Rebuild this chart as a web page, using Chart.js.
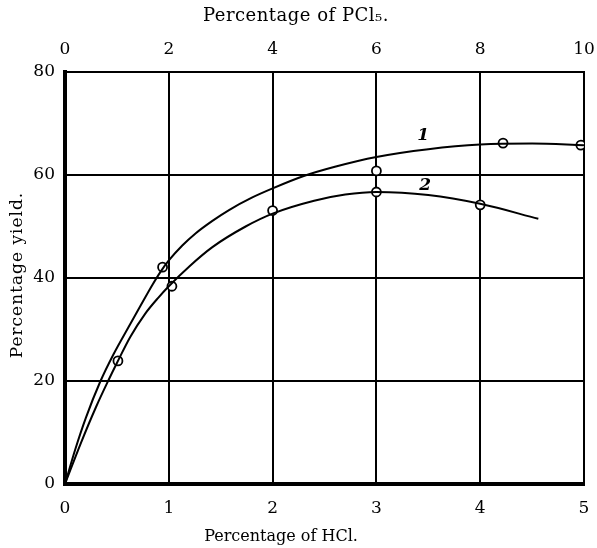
<!DOCTYPE html>
<html>
<head>
<meta charset="utf-8">
<script src="https://cdn.jsdelivr.net/npm/chart.js@4"></script>
<style>
  body { margin: 0; background: #fff; }
  #wrap { width: 597px; height: 548px; }
</style>
</head>
<body>
<div id="wrap"><canvas id="myChart" width="597" height="548"></canvas></div>
<script>
// smooth curves as drawn (HCl %, yield %)
const curve1X = [0, 0.1, 0.2, 0.34, 0.47, 0.61, 0.73, 0.84, 0.92, 1.0, 1.13, 1.26, 1.42, 1.58, 1.8, 2.0, 2.3, 2.6, 3.0, 3.5, 4.0, 4.5, 5.0];
const curve1Y = [0, 6.8, 12.8, 19.9, 25.3, 30.4, 34.7, 38.6, 41.2, 43.4, 46.3, 48.7, 51.1, 53.2, 55.6, 57.4, 59.8, 61.6, 63.5, 65, 65.9, 66.1, 65.8];
const curve2X = [0, 0.15, 0.3, 0.42, 0.5, 0.63, 0.77, 0.9, 1.0, 1.2, 1.42, 1.74, 2.0, 2.4, 2.7, 3.0, 3.5, 4.0, 4.56];
const curve2Y = [0, 7.8, 15, 20.2, 23.5, 28.6, 33, 36.2, 38.4, 42.3, 46, 50, 52.5, 55, 56.2, 56.7, 56.1, 54.4, 51.5];

// measured points (circles)
const points1X = [0.94, 3.0, 4.22, 4.97];
const points1Y = [42.1, 60.8, 66.2, 65.8];
const points2X = [0.51, 1.03, 2.0, 3.0, 4.0];
const points2Y = [23.9, 38.4, 53.1, 56.7, 54.2];

// curve labels
const curveLabels = ['1', '2'];
const labelX = [3.45, 3.47];
const labelY = [67.6, 57.9];

const hclTicks = [0, 1, 2, 3, 4, 5];
const pclTicks = [0, 2, 4, 6, 8, 10];
const yieldTicks = [0, 20, 40, 60, 80];

const serif = '"DejaVu Serif", serif';

function toXY(xs, ys) {
    return xs.map((x, i) => ({ x: x, y: ys[i] }));
}

const lineStyle = {
    showLine: true,
    borderColor: '#000',
    borderWidth: 2,
    pointRadius: 0,
    cubicInterpolationMode: 'monotone',
    fill: false
};
const dotStyle = {
    showLine: false,
    pointRadius: 4.5,
    pointBorderWidth: 1.8,
    pointBorderColor: '#000',
    pointBackgroundColor: '#fff'
};

const textPlugin = {
    id: 'texts',
    afterDatasetsDraw(chart) {
        const ctx = chart.ctx;
        const xs = chart.scales.x, ys = chart.scales.y;
        ctx.save();
        ctx.fillStyle = '#000';
        ctx.textAlign = 'center';
        ctx.textBaseline = 'middle';
        ctx.font = 'bold italic 17px ' + serif;
        curveLabels.forEach((t, i) => {
            ctx.fillText(t, xs.getPixelForValue(labelX[i]), ys.getPixelForValue(labelY[i]));
        });
        ctx.font = '18px ' + serif;
        ctx.letterSpacing = '0.5px';
        ctx.fillText('Percentage of PCl\u2085.', 296, 16);
        ctx.letterSpacing = '0px';
        ctx.font = '16px ' + serif;
        ctx.fillText('Percentage of HCl.', 281, 537);
        ctx.translate(18, 275);
        ctx.rotate(-Math.PI / 2);
        ctx.font = '17px ' + serif;
        ctx.letterSpacing = '1px';
        ctx.fillText('Percentage yield.', 0, 0);
        ctx.restore();
    }
};

const tickFont = { family: serif, size: 17 };

function noSidePad(s) {
    s.paddingLeft = 0;
    s.paddingRight = 0;
}

const myChart = new Chart(document.getElementById('myChart').getContext('2d'), {
    type: 'scatter',
    data: {
        datasets: [
            Object.assign({ data: toXY(curve1X, curve1Y) }, lineStyle),
            Object.assign({ data: toXY(curve2X, curve2Y) }, lineStyle),
            Object.assign({ data: toXY(points1X, points1Y) }, dotStyle),
            Object.assign({ data: toXY(points2X, points2Y) }, dotStyle)
        ]
    },
    plugins: [textPlugin],
    options: {
        responsive: false,
        animation: false,
        layout: { padding: 0 },
        plugins: { legend: { display: false }, tooltip: { enabled: false } },
        scales: {
            x: {
                type: 'linear', position: 'bottom', min: 0, max: 5,
                afterBuildTicks: s => { s.ticks = hclTicks.map(v => ({ value: v })); },
                afterFit: s => { s.height = 64; noSidePad(s); },
                ticks: { color: '#000', font: tickFont, padding: 14, maxRotation: 0 },
                grid: { color: '#000', lineWidth: 2, drawTicks: false },
                border: { color: '#000', width: 4 }
            },
            x2: {
                type: 'linear', position: 'top', min: 0, max: 10,
                afterBuildTicks: s => { s.ticks = pclTicks.map(v => ({ value: v })); },
                afterFit: s => { s.height = 72; noSidePad(s); },
                ticks: { color: '#000', font: tickFont, padding: 12, maxRotation: 0 },
                grid: { display: false, drawTicks: false },
                border: { color: '#000', width: 2 }
            },
            y: {
                min: 0, max: 80,
                afterBuildTicks: s => { s.ticks = yieldTicks.map(v => ({ value: v })); },
                afterFit: s => { s.width = 65; },
                ticks: { color: '#000', font: tickFont, padding: 10 },
                grid: { color: '#000', lineWidth: 2, drawTicks: false },
                border: { color: '#000', width: 4 }
            },
            y2: {
                position: 'right', min: 0, max: 80,
                afterFit: s => { s.width = 13; },
                ticks: { display: false },
                grid: { display: false, drawTicks: false },
                border: { color: '#000', width: 2 }
            }
        }
    }
});
</script>
</body>
</html>
